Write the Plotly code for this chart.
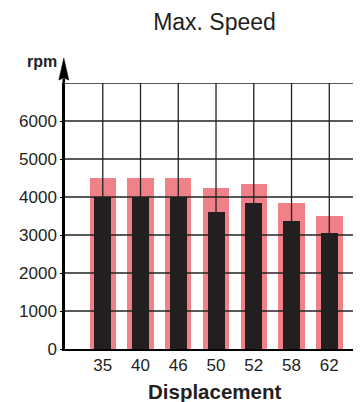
import plotly.graph_objects as go

categories = ["35", "40", "46", "50", "52", "58", "62"]
speed_max = [4500, 4500, 4500, 4230, 4330, 3830, 3500]
speed_rated = [4000, 4000, 4000, 3600, 3830, 3380, 3040]
y_ticks = [0, 1000, 2000, 3000, 4000, 5000, 6000]
y_grid = [1000, 2000, 3000, 4000, 5000, 6000, 7000]

PINK = "#F18188"
BLACK = "#231F20"
GRID = "#222222"
FONT = "Liberation Sans, Arial, Helvetica, sans-serif"

# page body has an 8px margin, so figure is sized/offset accordingly
W, H = 353, 394
ML, MT, MB = 56.5, 75, 53
PW, PH = W - ML, H - MT - MB

fig = go.Figure()
fig.add_trace(go.Bar(x=categories, y=speed_max, width=0.7,
                     marker=dict(color=PINK, line=dict(width=0)), hoverinfo="skip"))
fig.add_trace(go.Bar(x=categories, y=speed_rated, width=0.45,
                     marker=dict(color=BLACK, line=dict(width=0)), hoverinfo="skip"))

shapes = []
for v in y_grid:
    shapes.append(dict(type="line", xref="paper", yref="y", x0=0, x1=1, y0=v, y1=v,
                       line=dict(color=GRID, width=1.3), layer="above"))
for i, _c in enumerate(categories):
    shapes.append(dict(type="line", xref="x", yref="y", x0=i, x1=i, y0=0, y1=y_grid[-1],
                       line=dict(color=GRID, width=1.3), layer="above"))

# y-axis extension with arrowhead (paper coordinates)
ax_x = -1.2 / PW
top = 1 + 25 / PH
base = 1 + 3 / PH
hw = 5 / PW
shapes.append(dict(type="line", xref="paper", yref="paper", x0=ax_x, x1=ax_x, y0=0.99, y1=base + 0.005,
                   line=dict(color="black", width=2.5), layer="above"))
shapes.append(dict(type="path", xref="paper", yref="paper",
                   path=f"M {ax_x - hw},{base} L {ax_x},{top} L {ax_x + hw},{base} L {ax_x},{base + 2/PH} Z",
                   fillcolor="black", line=dict(color="black", width=0.5), layer="above"))

fig.update_layout(
    width=W, height=H,
    margin=dict(l=ML, r=0, t=MT, b=MB, autoexpand=False),
    paper_bgcolor="white", plot_bgcolor="white",
    barmode="overlay", bargap=0, showlegend=False,
    font=dict(family=FONT, color="#231F20"),
    shapes=shapes,
    title=dict(text="Max. Speed", font=dict(size=23, family=FONT, color="#231F20"),
               x=206.5/W, xanchor="center", xref="container",
               y=1-13.5/H, yanchor="middle", yref="container"),
    xaxis=dict(type="category", range=[-1, 6.84], showgrid=False, zeroline=False,
               showline=True, linecolor="black", linewidth=2,
               ticks="", tickfont=dict(size=17, family=FONT, color="#231F20"),
               fixedrange=True, automargin=False),
    yaxis=dict(range=[0, 7000], tickvals=y_ticks, ticktext=[str(v) for v in y_ticks],
               showgrid=False, zeroline=False, showline=True, linecolor="black", linewidth=2.5,
               ticks="outside", ticklen=2, tickcolor="black", tickwidth=1.2,
               tickfont=dict(size=17, family=FONT, color="#231F20"),
               fixedrange=True, automargin=False),
    annotations=[
        dict(text="<b>rpm</b>", xref="paper", yref="paper", x=0, y=1, xshift=-23, yshift=22,
             showarrow=False, xanchor="center", yanchor="middle",
             font=dict(size=16, family=FONT, color="#231F20")),
        dict(text="<b>Displacement</b>", xref="paper", yref="paper", x=0.5, y=0, xshift=1.5,
             yshift=-29, showarrow=False, xanchor="center", yanchor="top",
             font=dict(size=20.5, family=FONT, color="#231F20")),
    ],
)

fig.write_html("out.html")
